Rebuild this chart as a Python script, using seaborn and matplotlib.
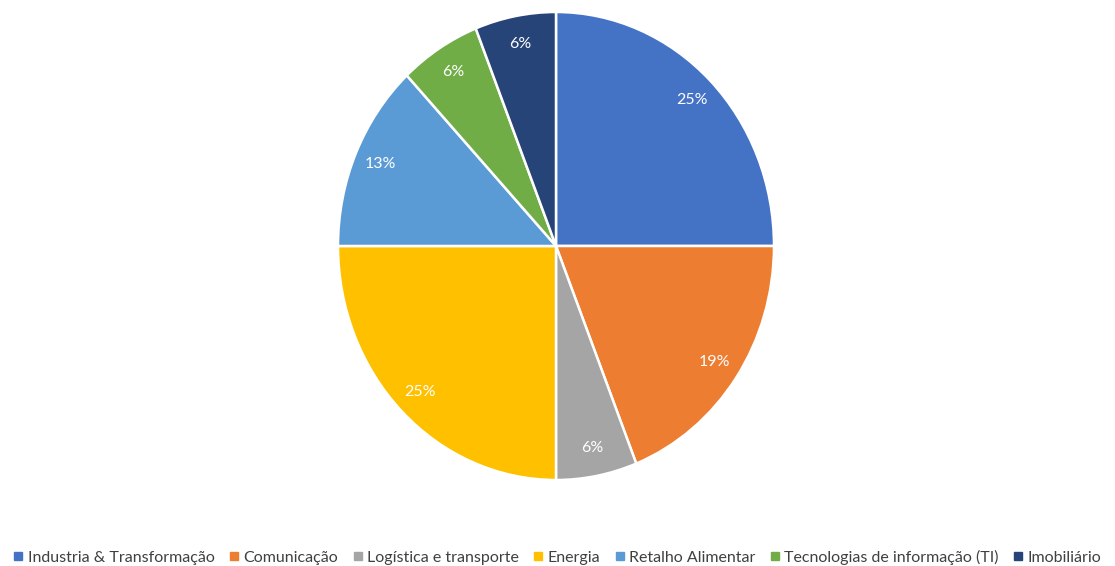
import matplotlib
matplotlib.use("Agg")
import matplotlib.pyplot as plt
from matplotlib.lines import Line2D
import seaborn as sns

sectors = [
    "Industria & Transformação",
    "Comunicação",
    "Logística e transporte",
    "Energia",
    "Retalho Alimentar",
    "Tecnologias de informação (TI)",
    "Imobiliário",
]
shares = [25, 19, 6, 25, 13, 6, 6]
colors = ["#4472C4", "#ED7D31", "#A5A5A5", "#FFC000", "#5B9BD5", "#70AD47", "#264478"]

sns.set_theme(style="white")
plt.rcParams["font.family"] = ["Lato", "DejaVu Sans"]
palette = sns.color_palette(colors)

W, H = 1115, 566
fig = plt.figure(figsize=(W / 100, H / 100), dpi=100)
# pie area in pixel terms: x 338..774, y 12..480
ax = fig.add_axes([338 / W, (H - 480) / H, 436 / W, 468 / H])

wedges, _, autotexts = ax.pie(
    shares,
    colors=palette,
    startangle=90,
    counterclock=False,
    autopct=lambda p: f"{p:.0f}%",
    pctdistance=0.88,
    wedgeprops=dict(edgecolor="white", linewidth=1.8),
    textprops=dict(color="white", fontsize=11.5),
)
ax.set_aspect("auto")
ax.set_xlim(-1, 1)
ax.set_ylim(-1, 1)
ax.axis("off")

handles = [
    Line2D([], [], marker="s", linestyle="none", markersize=5.5,
           markerfacecolor=c, markeredgecolor=c)
    for c in palette
]
fig.legend(
    handles, sectors,
    loc="center", bbox_to_anchor=(0.5, 1 - 557 / H),
    ncol=7, frameon=False, fontsize=11.5,
    handlelength=0.6, handletextpad=0.3, columnspacing=0.9,
    labelcolor="#404040",
)

fig.savefig("out.png", dpi=100)
